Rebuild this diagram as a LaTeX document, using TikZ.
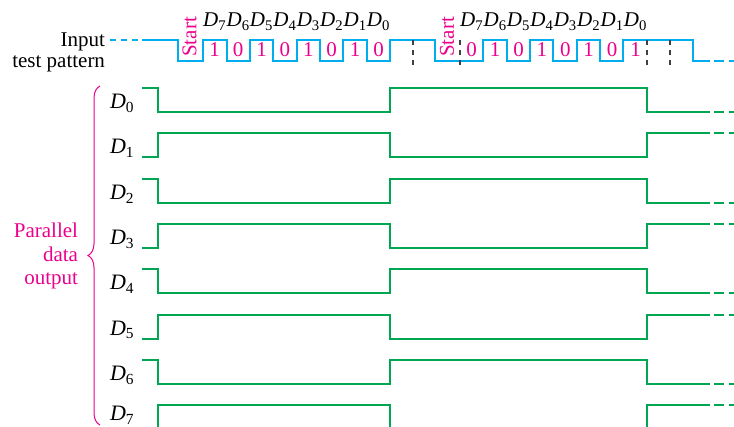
\documentclass[tikz,border=0pt]{standalone}
\usepackage{fontspec}
\setmainfont{LiberationSerif}[Extension=.ttf, UprightFont=*-Regular, ItalicFont=*-Italic,
    BoldFont=*-Bold, BoldItalicFont=*-BoldItalic]
\usetikzlibrary{decorations.pathreplacing}

\definecolor{wavecyan}{RGB}{0,174,239}
\definecolor{wavegreen}{RGB}{0,166,81}
\definecolor{labelpink}{RGB}{236,0,140}
\newcommand{\dsub}[1]{\textit{D}\textsubscript{#1}}

\begin{document}
\begin{tikzpicture}[
    x=1pt, y=-1pt,
    font=\rmfamily\fontsize{21}{21}\selectfont,
    txt/.style={inner sep=0pt, outer sep=0pt},
    bitlabel/.style={txt, text=labelpink, anchor=base},
    startlabel/.style={txt, text=labelpink, rotate=90},
    dlabel/.style={txt, anchor=base},
    rowlabel/.style={txt, anchor=base west, font=\rmfamily\fontsize{22}{22}\selectfont},
    serial/.style={draw=wavecyan, line width=2.6pt},
    parallel/.style={draw=wavegreen, line width=2.8pt},
    fade/.style={dash pattern=on 10pt off 5pt},
    marker/.style={draw=black!75, line width=1.2pt, dash pattern=on 5pt off 5pt}
]
\clip (0,0) rectangle (734,427);

% ---------------------------------------------------------------------
% 1. INPUT TEST PATTERN (serial)
% ---------------------------------------------------------------------
\node[txt, align=right, anchor=east] (Input) at (105, 52.6) {Input\\test pattern};

\draw[serial, dash pattern=on 6pt off 5pt] (110,40) -- (138,40);
\draw[serial] (142,40) -- (178,40) -- (178,61) -- (203,61) -- (203,40) -- (227,40) -- (227,61)
    -- (250,61) -- (250,40) -- (273,40) -- (273,61) -- (297,61) -- (297,40) -- (320,40)
    -- (320,61) -- (343,61) -- (343,40) -- (367,40) -- (367,61) -- (390,61) -- (390,40)
    -- (435,40) -- (435,61) -- (483,61) -- (483,40) -- (507,40) -- (507,61) -- (530,61)
    -- (530,40) -- (553,40) -- (553,61) -- (577,61) -- (577,40) -- (600,40) -- (600,61)
    -- (623,61) -- (623,40) -- (693,40) -- (693,61) -- (710,61);
\draw[serial, fade] (714,61) -- (734,61);

% Bit boundaries
\draw[marker] (413,40) -- (413,65);
\draw[marker] (460,40) -- (460,65);
\draw[marker] (647,40) -- (647,65);
\draw[marker] (670,40) -- (670,65);

% First frame: start bit, D7 ... D0 = 1 0 1 0 1 0 1 0
\node[startlabel] (StartA) at (189.5,37) {Start};
\node[dlabel] (FA7) at (214.7,27) {\dsub{7}};
\node[dlabel] (FA6) at (238.1,27) {\dsub{6}};
\node[dlabel] (FA5) at (261.5,27) {\dsub{5}};
\node[dlabel] (FA4) at (284.9,27) {\dsub{4}};
\node[dlabel] (FA3) at (308.3,27) {\dsub{3}};
\node[dlabel] (FA2) at (331.7,27) {\dsub{2}};
\node[dlabel] (FA1) at (355.1,27) {\dsub{1}};
\node[dlabel] (FA0) at (378.5,27) {\dsub{0}};
\node[bitlabel] (BA7) at (214.7,57) {1};
\node[bitlabel] (BA6) at (238.1,57) {0};
\node[bitlabel] (BA5) at (261.5,57) {1};
\node[bitlabel] (BA4) at (284.9,57) {0};
\node[bitlabel] (BA3) at (308.3,57) {1};
\node[bitlabel] (BA2) at (331.7,57) {0};
\node[bitlabel] (BA1) at (355.1,57) {1};
\node[bitlabel] (BA0) at (378.5,57) {0};

% Second frame: start bit, D7 ... D0 = 0 1 0 1 0 1 0 1
\node[startlabel] (StartB) at (447,37) {Start};
\node[dlabel] (FB7) at (471.7,27) {\dsub{7}};
\node[dlabel] (FB6) at (495.1,27) {\dsub{6}};
\node[dlabel] (FB5) at (518.5,27) {\dsub{5}};
\node[dlabel] (FB4) at (541.9,27) {\dsub{4}};
\node[dlabel] (FB3) at (565.3,27) {\dsub{3}};
\node[dlabel] (FB2) at (588.7,27) {\dsub{2}};
\node[dlabel] (FB1) at (612.1,27) {\dsub{1}};
\node[dlabel] (FB0) at (635.5,27) {\dsub{0}};
\node[bitlabel] (BB7) at (471.7,57) {0};
\node[bitlabel] (BB6) at (495.1,57) {1};
\node[bitlabel] (BB5) at (518.5,57) {0};
\node[bitlabel] (BB4) at (541.9,57) {1};
\node[bitlabel] (BB3) at (565.3,57) {0};
\node[bitlabel] (BB2) at (588.7,57) {1};
\node[bitlabel] (BB1) at (612.1,57) {0};
\node[bitlabel] (BB0) at (635.5,57) {1};

% ---------------------------------------------------------------------
% 2. PARALLEL DATA OUTPUT
% ---------------------------------------------------------------------
\node[txt, align=right, anchor=east, text=labelpink, font=\rmfamily\fontsize{21}{23.5}\selectfont]
    (Parallel) at (78,256) {Parallel\\data\\output};
\draw[labelpink, line width=1pt, decorate, decoration={brace, amplitude=12pt}]
    (100,425) -- (100,86);

% Row labels
\node[rowlabel] (D0) at (110,109) {\dsub{0}};
\node[rowlabel] (D1) at (110,154) {\dsub{1}};
\node[rowlabel] (D2) at (110,200) {\dsub{2}};
\node[rowlabel] (D3) at (110,245) {\dsub{3}};
\node[rowlabel] (D4) at (110,290) {\dsub{4}};
\node[rowlabel] (D5) at (110,335.5) {\dsub{5}};
\node[rowlabel] (D6) at (110,381) {\dsub{6}};
\node[rowlabel] (D7) at (110,421) {\dsub{7}};

% Waveforms (even rows fall, odd rows rise)
\draw[parallel] (142,88) -- (158,88) -- (158,112) -- (390,112) -- (390,88) -- (647,88) -- (647,112) -- (710,112);
\draw[parallel, fade] (714,112) -- (734,112);
\draw[parallel] (142,157) -- (158,157) -- (158,133) -- (390,133) -- (390,157) -- (647,157) -- (647,133) -- (710,133);
\draw[parallel, fade] (714,133) -- (734,133);
\draw[parallel] (142,179) -- (158,179) -- (158,203) -- (390,203) -- (390,179) -- (647,179) -- (647,203) -- (710,203);
\draw[parallel, fade] (714,203) -- (734,203);
\draw[parallel] (142,248) -- (158,248) -- (158,224) -- (390,224) -- (390,248) -- (647,248) -- (647,224) -- (710,224);
\draw[parallel, fade] (714,224) -- (734,224);
\draw[parallel] (142,269) -- (158,269) -- (158,293) -- (390,293) -- (390,269) -- (647,269) -- (647,293) -- (710,293);
\draw[parallel, fade] (714,293) -- (734,293);
\draw[parallel] (142,339) -- (158,339) -- (158,315) -- (390,315) -- (390,339) -- (647,339) -- (647,315) -- (710,315);
\draw[parallel, fade] (714,315) -- (734,315);
\draw[parallel] (142,360) -- (158,360) -- (158,384) -- (390,384) -- (390,360) -- (647,360) -- (647,384) -- (710,384);
\draw[parallel, fade] (714,384) -- (734,384);
\draw[parallel] (142,429) -- (158,429) -- (158,405) -- (390,405) -- (390,429) -- (647,429) -- (647,405) -- (710,405);
\draw[parallel, fade] (714,405) -- (734,405);

\end{tikzpicture}
\end{document}
